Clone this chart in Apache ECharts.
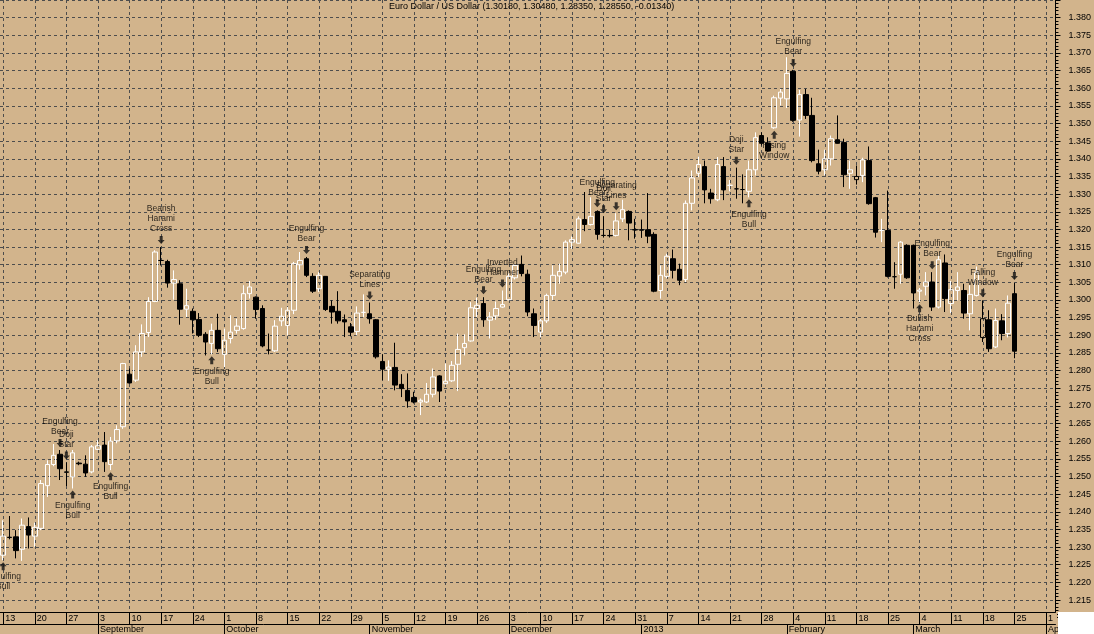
<!DOCTYPE html>
<html><head><meta charset="utf-8">
<script src="https://cdn.jsdelivr.net/npm/echarts@6/dist/echarts.min.js"></script>
<style>html,body{margin:0;padding:0;background:#fff;}#c{width:1094px;height:634px;}</style>
</head><body><div id="c"></div>
<script>
const titleText = 'Euro Dollar / US Dollar (1.30180, 1.30480, 1.28350, 1.28550, -0.01340)';
const FIRST_DAY = '2012-08-13';
const LAST_DAY = '2013-04-02';
const monthNames = ['January','February','March','April','May','June','July','August','September','October','November','December'];
const yTicks = {min: 1.210, max: 1.385, step: 0.005, firstLabel: 1.215, lastLabel: 1.380};

const open = [1.2277,1.2328,1.2329,1.2294,1.2358,1.2331,1.2353,1.2474,1.2534,1.2563,
1.2513,1.2499,1.2538,1.2535,1.2513,1.2577,1.2589,1.2534,1.2601,1.2641,
1.2790,1.2773,1.2853,1.2908,1.2996,1.3112,1.3109,1.3048,1.3046,1.2974,
1.2968,1.2945,1.2903,1.2877,1.2914,1.2846,1.2891,1.2914,1.2919,1.3018,
1.3008,1.2976,1.2858,1.2856,1.2941,1.2928,1.2971,1.3100,1.3117,1.3067,
1.3032,1.3067,1.2982,1.2968,1.2944,1.2924,1.2911,1.2965,1.2961,1.2944,
1.2826,1.2804,1.2809,1.2761,1.2744,1.2724,1.2711,1.2711,1.2733,1.2785,
1.2763,1.2771,1.2818,1.2865,1.2884,1.2976,1.2990,1.2943,1.2955,1.2980,
1.3001,1.3063,1.3101,1.3073,1.2961,1.2909,1.2941,1.3013,1.3068,1.3079,
1.3164,1.3161,1.3228,1.3214,1.3251,1.3183,1.3183,1.3183,1.3230,1.3251,
1.3199,1.3199,1.3199,1.3186,1.3027,1.3067,1.3117,1.3087,1.3058,1.3274,
1.3359,1.3378,1.3303,1.3284,1.3378,1.3325,1.3315,1.3313,1.3308,1.3369,
1.3466,1.3445,1.3488,1.3572,1.3570,1.3648,1.3510,1.3582,1.3523,1.3386,
1.3369,1.3400,1.3454,1.3446,1.3359,1.3341,1.3353,1.3395,1.3290,1.3197,
1.3197,1.3066,1.3073,1.3155,1.3155,1.3025,1.3039,1.3051,1.2980,1.3105,
1.2990,1.3027,1.3027,1.2961,1.3013,1.2894,1.2944,1.2867,1.2941,1.2905,
1.3018];
const high = [1.2376,1.2388,1.2348,1.2381,1.2384,1.2369,1.2490,1.2546,1.2592,1.2575,
1.2540,1.2575,1.2542,1.2560,1.2589,1.2603,1.2626,1.2612,1.2645,1.2822,
1.2806,1.2872,1.2931,1.3008,1.3141,1.3150,1.3114,1.3084,1.3056,1.3032,
1.2976,1.2963,1.2909,1.2933,1.2961,1.2919,1.2957,1.2947,1.3042,1.3054,
1.3010,1.2985,1.2905,1.2943,1.2978,1.2980,1.3108,1.3136,1.3122,1.3076,
1.3079,1.3068,1.2999,1.3025,1.2959,1.2935,1.2982,1.3016,1.2993,1.2946,
1.2846,1.2829,1.2879,1.2790,1.2792,1.2740,1.2721,1.2765,1.2806,1.2787,
1.2820,1.2827,1.2905,1.2903,1.2994,1.3007,1.3008,1.2966,1.2996,1.3027,
1.3075,1.3103,1.3126,1.3086,1.2976,1.2947,1.3018,1.3098,1.3103,1.3169,
1.3180,1.3237,1.3306,1.3291,1.3254,1.3237,1.3199,1.3246,1.3284,1.3254,
1.3230,1.3228,1.3303,1.3192,1.3098,1.3131,1.3143,1.3103,1.3282,1.3367,
1.3407,1.3395,1.3315,1.3405,1.3405,1.3340,1.3375,1.3356,1.3395,1.3475,
1.3475,1.3461,1.3579,1.3598,1.3688,1.3652,1.3595,1.3598,1.3573,1.3426,
1.3426,1.3466,1.3523,1.3457,1.3395,1.3381,1.3403,1.3435,1.3292,1.3230,
1.3310,1.3107,1.3167,1.3158,1.3157,1.3034,1.3079,1.3079,1.3126,1.3129,
1.3054,1.3079,1.3046,1.3042,1.3095,1.2999,1.2971,1.2976,1.2960,1.3013,
1.3048];
const low = [1.2263,1.2322,1.2268,1.2261,1.2296,1.2301,1.2348,1.2442,1.2529,1.2490,
1.2473,1.2466,1.2532,1.2499,1.2509,1.2575,1.2513,1.2518,1.2594,1.2635,
1.2763,1.2768,1.2839,1.2895,1.2994,1.3098,1.3035,1.3001,1.2930,1.2952,
1.2905,1.2895,1.2843,1.2846,1.2853,1.2810,1.2877,1.2905,1.2916,1.3004,
1.2947,1.2866,1.2846,1.2853,1.2926,1.2900,1.2960,1.3086,1.3065,1.3020,
1.3023,1.2969,1.2933,1.2933,1.2895,1.2897,1.2900,1.2952,1.2933,1.2834,
1.2773,1.2771,1.2744,1.2725,1.2695,1.2707,1.2674,1.2708,1.2724,1.2711,
1.2761,1.2768,1.2742,1.2843,1.2882,1.2952,1.2924,1.2891,1.2944,1.2978,
1.2999,1.3058,1.3067,1.2954,1.2895,1.2894,1.2935,1.2999,1.3046,1.3073,
1.3145,1.3160,1.3195,1.3211,1.3171,1.3177,1.3177,1.3180,1.3221,1.3169,
1.3174,1.3176,1.3161,1.3022,1.3004,1.3062,1.3061,1.3042,1.3051,1.3254,
1.3348,1.3274,1.3273,1.3280,1.3283,1.3308,1.3287,1.3274,1.3291,1.3353,
1.3438,1.3420,1.3485,1.3551,1.3544,1.3505,1.3463,1.3513,1.3390,1.3356,
1.3353,1.3381,1.3443,1.3320,1.3315,1.3327,1.3334,1.3270,1.3177,1.3164,
1.3064,1.3032,1.3046,1.3060,1.2976,1.2994,1.3013,1.2969,1.2976,1.2966,
1.2963,1.2999,1.2947,1.2914,1.3010,1.2881,1.2853,1.2864,1.2886,1.2894,
1.2835];
const close = [1.2331,1.2327,1.2290,1.2362,1.2334,1.2356,1.2480,1.2534,1.2560,1.2522,
1.2512,1.2567,1.2536,1.2510,1.2584,1.2587,1.2542,1.2600,1.2633,1.2820,
1.2765,1.2853,1.2905,1.2996,1.3136,1.3112,1.3048,1.3058,1.2974,1.2984,
1.2944,1.2900,1.2881,1.2914,1.2862,1.2886,1.2909,1.2926,1.3018,1.3037,
1.2973,1.2870,1.2858,1.2926,1.2954,1.2971,1.3103,1.3112,1.3070,1.3025,
1.3070,1.2973,1.2966,1.2941,1.2938,1.2909,1.2963,1.2965,1.2947,1.2839,
1.2804,1.2810,1.2759,1.2749,1.2714,1.2711,1.2716,1.2733,1.2782,1.2742,
1.2770,1.2815,1.2860,1.2877,1.2978,1.2985,1.2944,1.2952,1.2976,1.2987,
1.3067,1.3098,1.3075,1.2966,1.2928,1.2941,1.3013,1.3070,1.3081,1.3164,
1.3171,1.3230,1.3214,1.3237,1.3186,1.3183,1.3182,1.3224,1.3256,1.3218,
1.3199,1.3198,1.3181,1.3025,1.3070,1.3124,1.3084,1.3056,1.3274,1.3346,
1.3384,1.3312,1.3287,1.3384,1.3312,1.3325,1.3315,1.3313,1.3369,1.3460,
1.3444,1.3422,1.3573,1.3589,1.3642,1.3509,1.3582,1.3523,1.3395,1.3365,
1.3400,1.3457,1.3444,1.3355,1.3369,1.3350,1.3397,1.3273,1.3192,1.3197,
1.3067,1.3066,1.3164,1.3063,1.3020,1.3028,1.3051,1.2980,1.3114,1.3004,
1.3029,1.3037,1.2963,1.3016,1.3079,1.2947,1.2862,1.2942,1.2905,1.2991,
1.2855];

const patternIndex = [0, 9, 10, 11, 17, 25, 33, 48, 58, 76, 79, 94, 95, 97, 116, 118, 122, 125, 145, 147, 155, 160];
const patternName = ['Engulfing Bull','Engulfing Bear','Doji Star','Engulfing Bull','Engulfing Bull','Bearish Harami Cross','Engulfing Bull','Engulfing Bear','Separating Lines','Engulfing Bear','Inverted Hammer','Engulfing Bear','Doji Star','Separating Lines','Doji Star','Engulfing Bull','Rising Window','Engulfing Bear','Bullish Harami Cross','Engulfing Bear','Falling Window','Engulfing Bear'];
const patternDir = ['up','down','down','up','up','down','up','down','down','down','down','down','down','down','down','up','up','down','up','down','down','down'];

// calendar of trading days (weekdays)
function weekdays(a, b) {
  const out = [];
  let t = Date.parse(a + 'T00:00:00Z');
  const e = Date.parse(b + 'T00:00:00Z');
  while (t <= e) {
    const d = new Date(t);
    const w = d.getUTCDay();
    if (w > 0 && w < 6) out.push(d.toISOString().slice(0, 10));
    t += 86400000;
  }
  return out;
}
const dates = weekdays(FIRST_DAY, LAST_DAY);
const isMonday = (i) => new Date(dates[i] + 'T00:00:00Z').getUTCDay() === 1;
const isMonthStart = (i) => i > 0 && dates[i].slice(5, 7) !== dates[i - 1].slice(5, 7);
const monthLabel = (s) => { const m = +s.slice(5, 7); return m === 1 ? s.slice(0, 4) : monthNames[m - 1]; };

const FONT = 'Liberation Sans, Arial, sans-serif';
const TAN = '#d2b48c';

const candleData = open.map((o, i) => {
  const item = { value: [o, close[i], low[i], high[i]] };
  if (i > 0 && close[i] > o && close[i] < close[i - 1]) {
    item.itemStyle = { borderColor: '#000', borderColor0: '#000' };
  }
  return item;
});

const downData = [], upData = [];
patternIndex.forEach((idx, k) => {
  if (patternDir[k] === 'down') downData.push({ value: [idx, high[idx]], name: patternName[k] });
  else upData.push({ value: [idx, low[idx]], name: patternName[k] });
});

// plot geometry: y axis min/max multiples of the step; bottom edge falls behind the date band
const PX_PER_STEP = 17.667;
const gridTop = 17 - PX_PER_STEP * (yTicks.max - 1.380) / yTicks.step;
const gridHeight = PX_PER_STEP * (yTicks.max - yTicks.min) / yTicks.step;
const gridBottomY = gridTop + gridHeight;
const BAND_TOP = 612, ROW2 = 624, PLOT_RIGHT = 1057;

const labelCommon = {
  show: true, fontSize: 8.5, lineHeight: 10, color: '#000', fontFamily: FONT,
  formatter: (p) => p.name.split(' ').join('\n')
};

const chart = echarts.init(document.getElementById('c'), null, { renderer: 'canvas' });
chart.setOption({
  animation: false,
  backgroundColor: TAN,
  title: {
    text: titleText, left: 389, top: 2, padding: 0,
    textStyle: { fontSize: 9, fontWeight: 'normal', color: '#000', fontFamily: FONT }
  },
  grid: { left: 0, width: PLOT_RIGHT, top: gridTop, height: gridHeight, containLabel: false },
  xAxis: [
    {
      type: 'category', data: dates, boundaryGap: true, z: 0,
      axisLine: { show: false }, axisTick: { show: false }, axisLabel: { show: false },
      splitLine: { show: true, interval: (i) => isMonday(i), alignWithLabel: true,
        lineStyle: { color: '#4d4d4d', type: [3, 3], width: 1 } }
    },
    {
      type: 'category', data: dates, boundaryGap: true, position: 'bottom', z: 5,
      offset: BAND_TOP - gridBottomY,
      axisLine: { show: true, lineStyle: { color: '#000', width: 1 } },
      axisTick: { show: true, alignWithLabel: true, interval: (i) => isMonday(i), length: ROW2 - BAND_TOP, lineStyle: { color: '#000' } },
      axisLabel: { show: true, interval: (i) => isMonday(i), formatter: (v) => String(+v.slice(8)), align: 'left', margin: 2, padding: [0, 0, 0, 2], fontSize: 9, color: '#000', fontFamily: FONT },
      splitLine: { show: false }
    },
    {
      type: 'category', data: dates, boundaryGap: true, position: 'bottom', z: 5,
      offset: ROW2 - gridBottomY,
      axisLine: { show: true, lineStyle: { color: '#000', width: 1 } },
      axisTick: { show: true, alignWithLabel: true, interval: (i) => isMonthStart(i), length: 10, lineStyle: { color: '#000' } },
      axisLabel: { show: true, interval: (i) => isMonthStart(i), formatter: (v) => monthLabel(v), align: 'left', margin: 1, padding: [0, 0, 0, 2], fontSize: 9, color: '#000', fontFamily: FONT },
      splitLine: { show: false }
    }
  ],
  yAxis: {
    type: 'value', position: 'right', min: yTicks.min, max: yTicks.max, interval: yTicks.step, scale: true,
    axisLine: { show: true, lineStyle: { color: '#000', width: 1 } },
    axisTick: { show: true, length: 5, lineStyle: { color: '#000' } },
    minorTick: { show: true, splitNumber: 5, length: 3, lineStyle: { color: '#000' } },
    axisLabel: { show: true, margin: 13, fontSize: 9, color: '#000', fontFamily: FONT,
      formatter: (v) => (v >= yTicks.firstLabel - 1e-6 && v <= yTicks.lastLabel + 1e-6) ? v.toFixed(3) : '' },
    splitLine: { show: true, lineStyle: { color: '#4d4d4d', type: [3, 3], width: 1 } }
  },
  graphic: [
    { type: 'rect', z: 1, silent: true, shape: { x: 0, y: BAND_TOP, width: PLOT_RIGHT, height: 634 - BAND_TOP }, style: { fill: TAN } },
    { type: 'rect', z: 20, silent: true, shape: { x: PLOT_RIGHT + 1, y: BAND_TOP, width: 1094 - PLOT_RIGHT, height: 634 - BAND_TOP }, style: { fill: '#fff' } }
  ],
  series: [
    {
      type: 'candlestick', xAxisIndex: 0, yAxisIndex: 0, z: 2,
      barWidth: 5,
      itemStyle: { color: 'rgba(0,0,0,0)', color0: '#000', borderColor: '#fff', borderColor0: '#000', borderWidth: 1 },
      data: candleData
    },
    {
      type: 'scatter', xAxisIndex: 0, yAxisIndex: 0, z: 4,
      symbol: 'path://M2,0 L5,0 L5,4 L7,4 L3.5,8 L0,4 L2,4 Z', symbolSize: [7, 8], symbolOffset: [0, -7],
      itemStyle: { color: '#111' },
      label: Object.assign({ position: 'top', distance: 2 }, labelCommon),
      data: downData
    },
    {
      type: 'scatter', xAxisIndex: 0, yAxisIndex: 0, z: 4,
      symbol: 'path://M3.5,0 L7,4 L5,4 L5,8 L2,8 L2,4 L0,4 Z', symbolSize: [7, 8], symbolOffset: [0, 6],
      itemStyle: { color: '#111' },
      label: Object.assign({ position: 'bottom', distance: 2 }, labelCommon),
      data: upData
    }
  ]
});
</script></body></html>
